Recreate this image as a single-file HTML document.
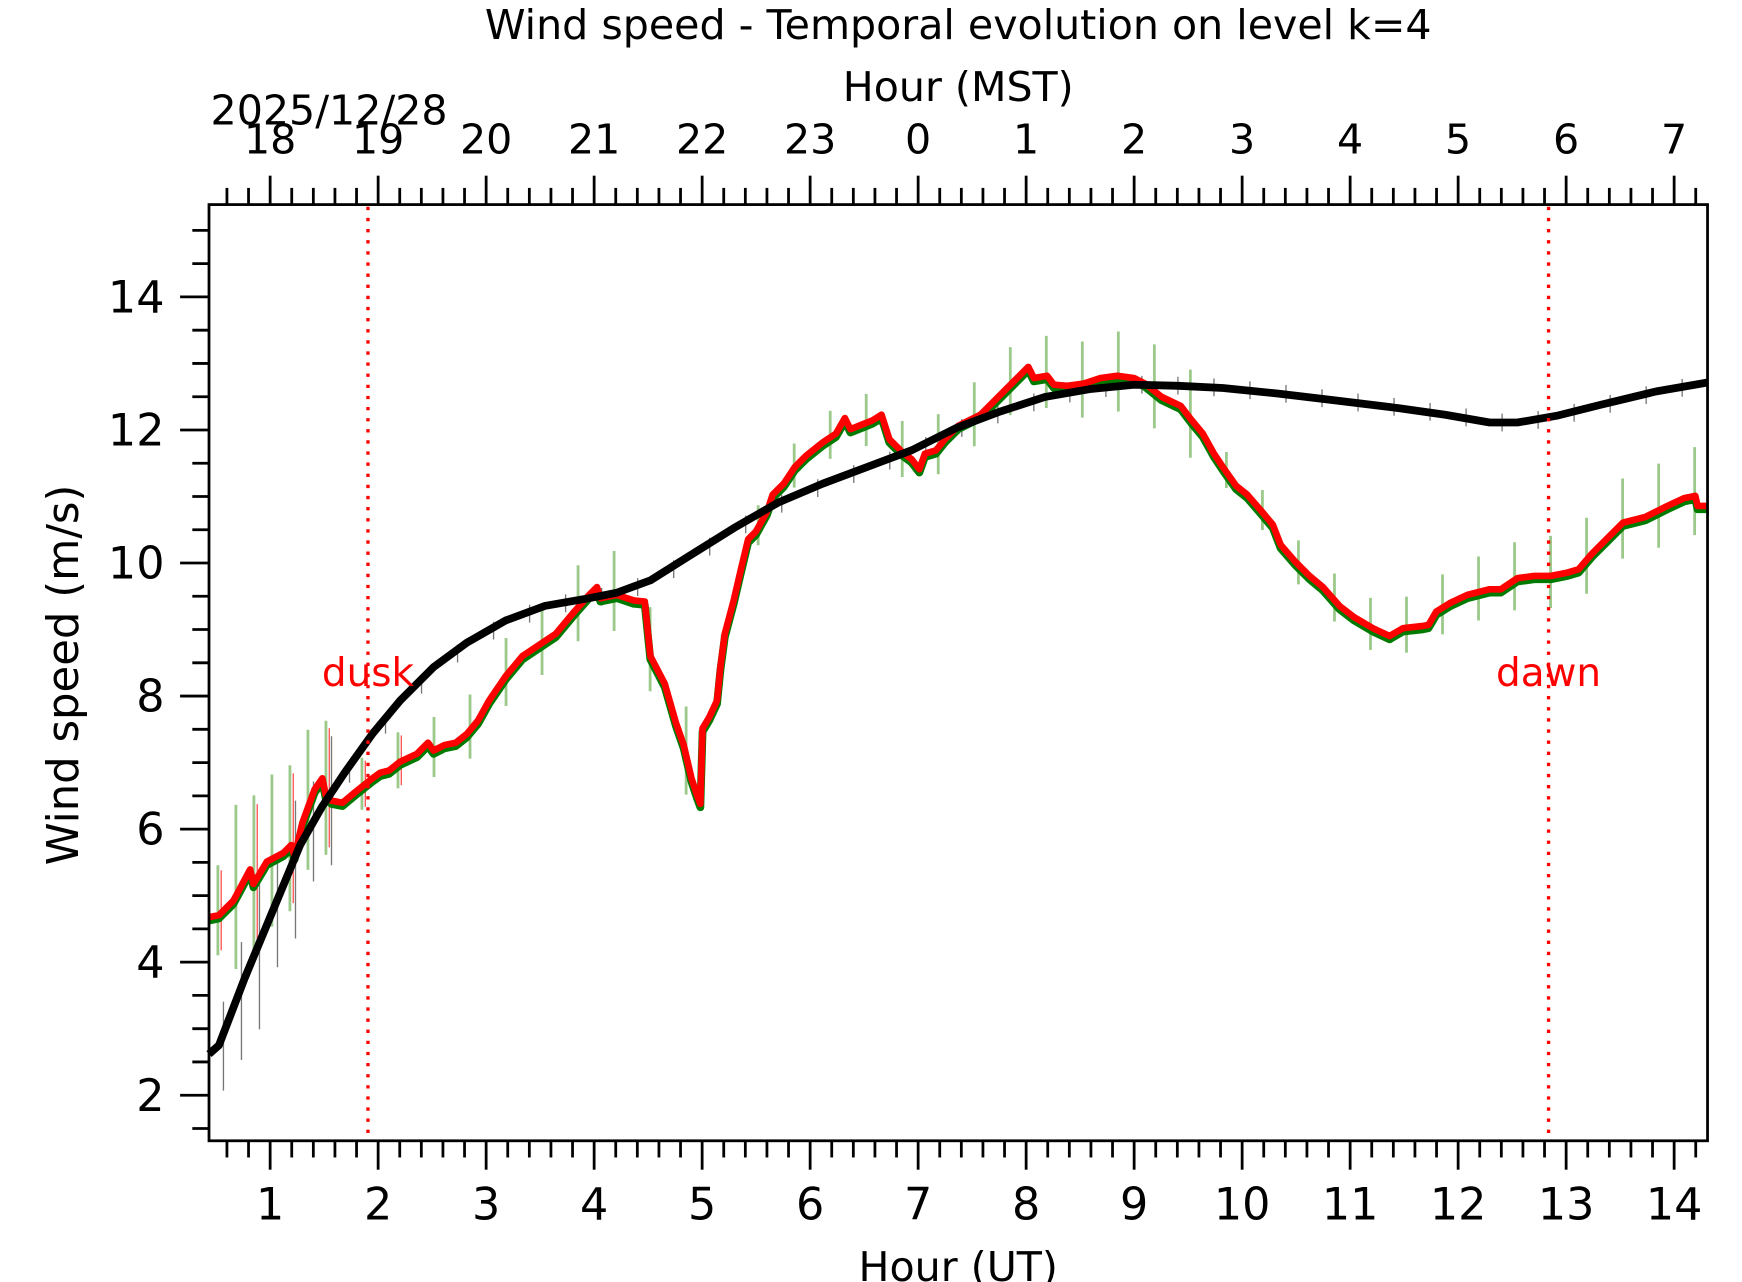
<!DOCTYPE html>
<html><head><meta charset="utf-8"><style>
html,body{margin:0;padding:0;background:#fff;}
svg{display:block;}
text{font-family:"DejaVu Sans","Liberation Sans",sans-serif;}
</style></head><body>
<svg id="s" width="1742" height="1282" viewBox="0 0 1567 1153" preserveAspectRatio="none" xmlns="http://www.w3.org/2000/svg">
<rect x="0" y="0" width="1567" height="1153" fill="#fff"/>
<g id="err"></g>
<polyline id="green" fill="none" stroke="#007a00" stroke-width="7" stroke-linejoin="round"/>
<polyline id="red" fill="none" stroke="#ff0000" stroke-width="6" stroke-linejoin="round"/>
<polyline id="black" fill="none" stroke="#000" stroke-width="7" stroke-linejoin="round"/>
<line x1="331" y1="186" x2="331" y2="1025" stroke="#f00" stroke-width="3" stroke-dasharray="3,7"/>
<line x1="1393" y1="186" x2="1393" y2="1025" stroke="#f00" stroke-width="3" stroke-dasharray="3,7"/>
<text x="331" y="617" fill="#f00" font-size="35" text-anchor="middle">dusk</text>
<text x="1393" y="617" fill="#f00" font-size="35" text-anchor="middle">dawn</text>
<rect x="188" y="184" width="1348" height="842" fill="none" stroke="#000" stroke-width="2.5"/>
<g id="ticks" stroke="#000" stroke-width="2.5"></g>
<g id="labels" font-size="37" fill="#000"></g>
<text x="862" y="35" font-size="37" text-anchor="middle">Wind speed - Temporal evolution on level k=4</text>
<text x="862" y="91" font-size="37" text-anchor="middle">Hour (MST)</text>
<text x="296" y="112" font-size="37" text-anchor="middle">2025/12/28</text>
<text x="862" y="1152" font-size="37" text-anchor="middle">Hour (UT)</text>
<text transform="translate(70,607) rotate(-90)" font-size="39" text-anchor="middle">Wind speed (m/s)</text>
</svg>
<script>
const NS="http://www.w3.org/2000/svg";
function el(t,a,p){const e=document.createElementNS(NS,t);for(const k in a)e.setAttribute(k,a[k]);p.appendChild(e);return e;}
const X=h=>243+(h-1)*97.15, Y=v=>985-(v-2)*59.83;
const tk=document.getElementById('ticks'), lb=document.getElementById('labels');
for(let i=-3;i<=72;i++){const h=1+i*0.2;const x=X(h);if(x<189||x>1535)continue;const maj=i%5==0;
 el('line',{x1:x,y1:1026,x2:x,y2:1026+(maj?26:15)},tk);el('line',{x1:x,y1:184,x2:x,y2:184-(maj?26:15)},tk);}
const mst=[18,19,20,21,22,23,0,1,2,3,4,5,6,7];
for(let h=1;h<=14;h++){const t=el('text',{x:X(h),y:1097,'text-anchor':'middle','font-size':40},lb);t.textContent=h;
 const t2=el('text',{x:X(h),y:138,'text-anchor':'middle'},lb);t2.textContent=mst[h-1];}
for(let i=0;i<=30;i++){const v=1.5+i*0.5;const y=Y(v);if(y<185||y>1025)continue;const maj=(v%2==0);
 el('line',{x1:188,y1:y,x2:188-(maj?26:15),y2:y},tk);
 if(maj){const t=el('text',{x:148,y:y+14,'text-anchor':'end','font-size':40},lb);t.textContent=v;}}
const blk=[[188,948],[197,940],[220,880],[245,820],[270,760],[290,725],[310,695],[335,660],[360,630],[390,600],[420,578],[455,558],[490,545],[530,538],[555,533],[585,522],[620,500],[660,475],[700,452],[740,435],[780,420],[820,405],[860,385],[900,370],[940,357],[980,350],[1020,346],[1060,347],[1100,349],[1150,354],[1200,360],[1250,366],[1300,373],[1340,380],[1365,380],[1400,374],[1440,364],[1490,352],[1536,344]];
const red=[[188,825],[197,823],[210,810],[225,782],[228,795],[240,775],[255,767],[262,760],[265,770],[272,740],[283,710],[290,700],[293,715],[298,720],[308,722],[320,712],[335,700],[342,695],[350,693],[360,685],[375,678],[385,668],[390,675],[400,670],[410,668],[420,660],[430,648],[440,630],[455,608],[470,590],[485,580],[500,570],[515,552],[530,535],[537,528],[540,538],[555,535],[570,540],[580,541],[585,590],[598,615],[608,650],[615,670],[622,700],[627,715],[630,723],[632,655],[638,645],[645,630],[648,600],[652,570],[660,540],[667,510],[673,485],[680,478],[690,460],[695,445],[705,435],[715,420],[725,410],[740,398],[752,390],[760,376],[765,386],[775,382],[785,378],[793,373],[800,395],[812,407],[820,413],[827,422],[832,408],[842,405],[850,395],[862,383],[872,378],[882,373],[892,363],[905,350],[915,340],[925,330],[930,340],[942,338],[948,346],[960,347],[975,345],[990,340],[1005,338],[1020,340],[1030,345],[1045,357],[1062,365],[1072,378],[1082,390],[1092,408],[1100,420],[1112,437],[1122,445],[1135,460],[1145,472],[1152,490],[1165,505],[1178,518],[1190,528],[1205,545],[1218,555],[1235,565],[1250,572],[1262,565],[1280,563],[1285,562],[1292,550],[1305,542],[1320,535],[1340,530],[1350,530],[1365,520],[1380,518],[1395,518],[1410,515],[1420,512],[1432,498],[1445,485],[1460,470],[1480,465],[1500,455],[1515,448],[1525,446],[1527,455],[1536,455]];
function interp(P,x){for(let i=1;i<P.length;i++){if(x<=P[i][0]){const a=P[i-1],b=P[i];const t=(x-a[0])/(b[0]-a[0]||1);return a[1]+t*(b[1]-a[1]);}}return P[P.length-1][1];}
document.getElementById('black').setAttribute('points',blk.map(p=>p.join(',')).join(' '));
document.getElementById('red').setAttribute('points',red.map(p=>p.join(',')).join(' '));
document.getElementById('green').setAttribute('points',red.map(p=>p[0]+','+(p[1]+3)).join(' '));
const er=document.getElementById('err');
let k=0;
for(let x=196;x<1535;x+=16.2){const y=interp(red,x);const d=x<300?45+((k*37)%40):18+((k*29)%28);
 if(k%2==0||x<300) el('line',{x1:x,y1:y-d,x2:x,y2:y+d*0.8,stroke:'#9bc98a','stroke-width':2.5},er);
 if(x<380&&k%2==0) el('line',{x1:x+3,y1:y-d*0.9,x2:x+3,y2:y+d*0.7,stroke:'#f55','stroke-width':1.2},er);
 const yb=interp(blk,x);const db=x<300?40+((k*13)%30):8;
 if(k%2==1||x<300) el('line',{x1:x+5,y1:yb-db,x2:x+5,y2:yb+db,stroke:'#777','stroke-width':1.2},er);k++;}
</script>
</body></html>
